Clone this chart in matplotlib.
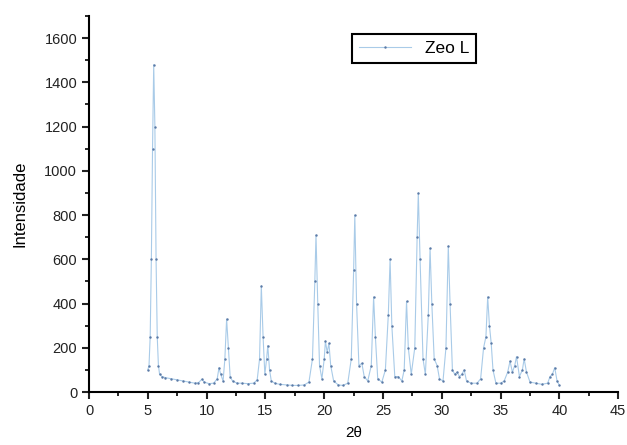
import matplotlib
matplotlib.use("Agg")
import matplotlib.pyplot as plt
from matplotlib.ticker import MultipleLocator

# XRD pattern of Zeo L
two_theta = [5.0, 5.1, 5.2, 5.3, 5.4, 5.5, 5.6, 5.7, 5.8, 5.9, 6.0, 6.2, 6.5, 7.0, 7.5,
             8.0, 8.5, 9.0, 9.3, 9.6, 9.8, 10.2, 10.6, 10.9, 11.05, 11.2, 11.4, 11.55,
             11.7, 11.85, 12.0, 12.2, 12.6, 13.0, 13.5, 14.0, 14.3, 14.5, 14.65, 14.8,
             14.95, 15.1, 15.2, 15.35, 15.5, 15.8, 16.2, 16.8, 17.3, 17.8, 18.3, 18.7,
             19.0, 19.2, 19.3, 19.45, 19.6, 19.8, 20.0, 20.1, 20.25, 20.4, 20.55, 20.8,
             21.2, 21.6, 22.0, 22.3, 22.5, 22.6, 22.75, 22.95, 23.2, 23.4, 23.7, 24.0,
             24.2, 24.35, 24.55, 24.9, 25.2, 25.45, 25.6, 25.75, 26.0, 26.3, 26.6, 26.8,
             27.0, 27.15, 27.4, 27.7, 27.9, 28.0, 28.15, 28.4, 28.6, 28.85, 29.0, 29.15,
             29.35, 29.6, 29.8, 30.1, 30.35, 30.55, 30.7, 30.9, 31.1, 31.3, 31.5, 31.7,
             31.9, 32.1, 32.5, 33.0, 33.3, 33.55, 33.75, 33.9, 34.05, 34.2, 34.35, 34.6,
             35.0, 35.3, 35.6, 35.8, 36.0, 36.2, 36.35, 36.6, 36.85, 37.0, 37.2, 37.5,
             38.0, 38.5, 39.0, 39.2, 39.4, 39.6, 39.8, 40.0]
intensity = [100, 120, 250, 600, 1100, 1480, 1200, 600, 250, 120, 80, 70, 65, 60, 55,
             50, 45, 40, 42, 58, 45, 38, 40, 60, 110, 80, 50, 150,
             330, 200, 70, 50, 40, 40, 38, 40, 55, 150, 480, 250,
             80, 150, 210, 100, 50, 40, 35, 32, 30, 30, 32, 45,
             150, 500, 710, 400, 120, 60, 150, 230, 180, 220, 120, 50,
             32, 30, 40, 150, 550, 800, 400, 120, 130, 70, 50, 120,
             430, 250, 60, 45, 100, 350, 600, 300, 70, 70, 50, 100,
             410, 200, 80, 200, 700, 900, 600, 150, 80, 350, 650, 400,
             150, 120, 60, 50, 200, 660, 400, 100, 80, 90, 70, 80,
             100, 50, 40, 40, 60, 200, 250, 430, 300, 220, 100, 40,
             40, 50, 90, 140, 90, 120, 160, 70, 100, 150, 90, 45,
             40, 35, 40, 70, 80, 110, 50, 30]

plt.rcParams['font.family'] = ['Liberation Sans', 'DejaVu Sans']

fig = plt.figure(figsize=(6.27, 4.45), dpi=100)
ax = fig.add_axes([0.142, 0.119, 0.844, 0.845])

ax.plot(two_theta, intensity, color='#a9cbe8', linewidth=0.8,
        marker='.', markersize=1.5, markerfacecolor='#5b7aa6',
        markeredgecolor='#5b7aa6', label='Zeo L')

ax.set_xlim(0, 45)
ax.set_ylim(0, 1700)
ax.xaxis.set_major_locator(MultipleLocator(5))
ax.xaxis.set_minor_locator(MultipleLocator(2.5))
ax.yaxis.set_major_locator(MultipleLocator(200))
ax.yaxis.set_minor_locator(MultipleLocator(100))

for side in ['top', 'right']:
    ax.spines[side].set_visible(False)
for side in ['left', 'bottom']:
    ax.spines[side].set_linewidth(1.5)
ax.tick_params(which='major', direction='out', length=5, width=1.5, labelsize=10.5, colors='#222222')
ax.tick_params(which='minor', direction='out', length=3, width=1.2)

ax.set_xlabel('2θ', fontsize=11, labelpad=6)
ax.set_ylabel('Intensidade', fontsize=12, labelpad=12)

leg = ax.legend(loc='upper left', bbox_to_anchor=(0.48, 0.975), fontsize=12.5,
                fancybox=False, edgecolor='black', framealpha=1,
                handlelength=3.0, borderpad=0.4)
leg.get_frame().set_linewidth(1.5)

fig.savefig('out.png', dpi=100)
